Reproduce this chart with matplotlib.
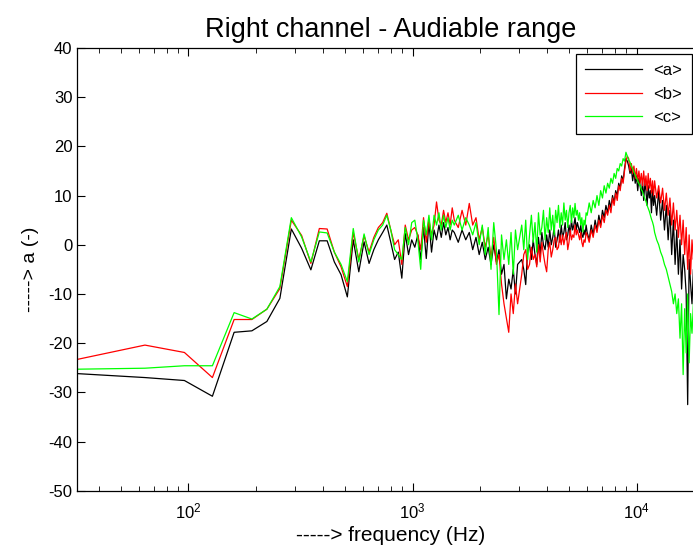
import matplotlib
matplotlib.use("Agg")
import matplotlib.pyplot as plt
import numpy as np

plt.rcParams['font.family'] = ['Liberation Sans', 'DejaVu Sans']
plt.rcParams['axes.unicode_minus'] = False

# frequency bins (Hz): FFT bins of 32 Hz, decimated at higher frequencies
freq = np.concatenate([
    np.arange(32, 1000, 32),
    np.arange(1024, 1505, 32),
    np.arange(1536, 2945, 64),
    np.arange(3072, 5953, 64),
    np.arange(6016, 11905, 128),
    np.arange(12032, 19969, 256),
])

# <a>
a_vals = [
    -26.2, -27.0, -27.6, -30.8, -17.8, -17.5, -15.6, -10.9, 3.2, -0.7,
    -5.1, 0.8, 0.8, -3.5, -6.1, -10.6, 1.0, -5.5, 0.6, -3.8,
    -1.0, 1.0, 2.5, 4.0, 0.5, -3.0, -1.5, -6.8, 2.3, -2.0, 1.0,
    # 1024 - 1504
    -0.5, 2.0, -3.0, 3.5, -2.8, 4.5, -1.5, 3.0, 1.0, 4.0, 1.5, 4.5, 2.0, 3.5, 1.0, 3.0,
    # 1536 - 2944
    2.5, 0.5, 3.0, 1.0, 2.5, -1.0, 1.5, -2.0, 0.5, -3.0, -0.5, -4.0, 0.0, -3.5, -1.0,
    -6.0, -4.0, -11.0, -7.0, -9.0, -5.0, -10.0, -4.0,
    # 3072 - 5952
    -3.0, -5.0, -8.1, -1.0, 0.0, -3.0, 1.0, -2.0, -4.0, 1.5,
    -2.0, 2.5, 0.0, -1.0, 2.0, -0.5, 3.0, 0.0, 1.5, 3.5,
    -0.5, 1.0, 3.0, 0.5, 4.0, 1.5, 2.5, 4.5, 1.0, 2.0,
    4.0, 2.0, 5.0, 3.0, 4.0, 5.5, 3.0, 4.5, 3.5, 2.5,
    4.0, 2.0, 1.5, 3.0, 2.0, 4.0,
    # 6016 - 11904
    2.5, 1.0, 4.0, 2.0, 5.0, 3.0, 6.0, 4.0, 7.0, 5.5,
    8.0, 6.5, 9.0, 7.5, 10.0, 8.5, 11.0, 10.0, 12.5, 11.5,
    14.0, 13.0, 15.5, 17.5, 17.0, 16.0, 14.5, 15.5, 13.0, 15.0,
    12.5, 14.0, 11.0, 13.5, 12.0, 10.0, 13.0, 9.0, 12.5, 11.0,
    8.0, 12.0, 9.5, 11.0, 6.5, 11.5, 8.0,
    # 12032 - 19968
    10.0, 6.0, 11.0, 5.0, 9.0, 3.0, 8.0, 1.0, 7.0, -2.0,
    5.0, -4.0, 3.0, -6.0, 1.0, -9.0, -2.0, -5.0, -10.0, -32.5,
    -3.0, -8.0, -12.0, -5.0, -14.0, -9.0, -6.0, -16.0, -10.0, -13.0,
    -18.0, -11.0,
]

# <b>
b_vals = [
    -23.3, -20.4, -21.9, -27.0, -15.2, -15.2, -13.1, -8.9, 5.0, 1.9,
    -3.8, 3.3, 3.2, -1.5, -4.5, -8.5, 2.5, -3.0, 1.8, -1.5,
    1.5, 3.5, 4.5, 6.4, 3.0, 0.0, 1.0, -4.0, 4.0, 1.0, 3.0,
    # 1024 - 1504
    3.5, 2.0, -1.0, 5.5, 0.5, 5.0, 2.0, 4.0, 8.7, 5.0, 4.0, 7.0, 4.5, 6.5, 4.0, 7.5,
    # 1536 - 2944
    5.0, 3.5, 7.0, 4.0, 8.4, 4.0, 5.5, 1.0, 3.5, -0.5, 2.0, -2.5, 1.5, -4.0, -2.0,
    -8.0, -12.0, -15.0, -17.8, -10.0, -14.0, -8.0, -12.0,
    # 3072 - 5952
    -6.0, -2.0, -1.0, -5.0, -4.0, -0.5, -3.0, -2.0, -4.5, 0.0,
    -3.5, 0.5, -2.0, -4.0, -5.5, -1.0, 0.5, -2.5, -1.0, 1.0,
    1.5, -1.0, -0.5, 2.0, 0.0, 2.0, 0.0, 1.5, 2.5, -1.0,
    0.5, 3.0, 1.0, 2.0, 1.5, 4.0, 2.0, 3.0, 2.0, 1.0,
    2.5, 0.5, -0.4, 1.0, 0.5, 2.5,
    # 6016 - 11904
    2.0, 0.5, 3.0, 1.5, 4.0, 2.5, 5.0, 3.5, 6.0, 4.5,
    7.0, 6.0, 8.0, 6.5, 9.5, 8.0, 10.5, 9.0, 12.0, 11.0,
    13.5, 12.5, 15.0, 17.0, 18.0, 17.5, 15.0, 16.5, 14.5, 16.0,
    13.5, 15.5, 13.0, 15.0, 12.5, 14.5, 12.0, 15.0, 12.0, 14.0,
    11.0, 14.5, 11.5, 13.5, 10.5, 13.0, 10.0,
    # 12032 - 19968
    13.0, 9.5, 12.0, 8.5, 11.5, 7.0, 10.5, 6.0, 9.5, 4.0,
    8.5, 3.0, 7.0, 1.5, 6.0, 0.0, 5.0, -2.0, 3.5, -5.0,
    2.0, -6.0, 1.0, -3.0, 0.5, -7.0, -1.0, -4.0, -8.0, -2.0,
    -6.0, -9.0,
]

# <c>
c_vals = [
    -25.3, -25.1, -24.6, -24.6, -13.8, -15.1, -13.1, -8.5, 5.5, 1.6,
    -3.5, 2.6, 2.4, -1.5, -4.0, -7.5, 3.3, -3.5, 2.2, -2.0,
    1.0, 3.0, 4.0, 6.0, 3.0, -1.0, -2.0, -3.0, 3.5, 0.0, 4.5,
    # 1024 - 1504
    5.0, 1.0, -5.0, 5.0, 2.0, 6.0, 1.0, 6.0, 4.0, 6.5, 3.0, 6.0, 3.5, 5.5, 3.0, 5.0,
    # 1536 - 2944
    4.0, 6.0, 3.0, 5.5, 4.0, 2.0, 4.5, 0.0, 4.0, -2.0, 3.5, -5.0, 4.5, -1.0, -14.2,
    2.0, -3.0, 1.0, -4.0, 2.5, -6.0, 3.0, -1.0,
    # 3072 - 5952
    4.0, -1.0, 5.0, -3.0, 2.0, 6.0, 0.5, 4.5, -1.5, 6.5,
    2.0, 3.5, 7.0, 1.0, 5.5, 2.5, 7.5, 3.0, 6.0, 2.0,
    7.0, 4.5, 8.0, 3.5, 6.5, 4.0, 8.5, 5.0, 7.0, 3.5,
    6.5, 8.0, 4.5, 7.5, 5.5, 8.4, 6.0, 7.0, 5.0, 6.5,
    4.0, 5.5, 2.6, 5.0, 4.0, 6.5,
    # 6016 - 11904
    6.0, 8.5, 6.5, 9.0, 7.5, 10.0, 8.0, 11.0, 9.5, 12.0,
    10.5, 12.5, 11.5, 13.5, 12.5, 14.5, 13.5, 15.5, 15.0, 16.5,
    16.0, 17.5, 17.0, 18.8, 18.0, 17.2, 16.8, 16.0, 15.5, 14.8,
    14.2, 13.5, 13.0, 12.4, 12.0, 11.2, 10.8, 10.0, 9.4, 8.8,
    8.0, 7.4, 6.8, 6.0, 5.2, 4.6, 3.8,
    # 12032 - 19968
    2.5, 1.0, 0.0, -1.5, -2.5, -4.0, -5.0, -6.5, -8.0, -9.5,
    -12.0, -10.0, -14.0, -11.0, -19.0, -12.0, -26.4, -13.0, -22.0, -10.0,
    -24.0, -14.0, -18.0, -12.0, -20.0, -15.0, -22.0, -16.0, -19.0, -24.0,
    -17.0, -21.0,
]

labels = ['<a>', '<b>', '<c>']
colors = ['k', 'r', '#00ff00']

fig = plt.figure(figsize=(6.93, 5.49), dpi=100)
ax = fig.add_axes([0.1118, 0.1062, 0.9042, 0.8064])

for vals, lab, col in zip([a_vals, b_vals, c_vals], labels, colors):
    ax.semilogx(freq, vals, color=col, lw=0.9, label=lab)

ax.set_xlim(32, 20000)
ax.set_ylim(-50, 40)
ax.set_yticks(np.arange(-50, 41, 10))
ax.tick_params(which='both', direction='in', top=True, right=True, labelsize=12)
ax.tick_params(which='major', length=6)
ax.tick_params(which='minor', length=3.5)
ax.tick_params(axis='x', pad=8)
for s in ax.spines.values():
    s.set_linewidth(0.9)

ax.set_title('Right channel - Audiable range', fontsize=19.5, pad=8)
ax.set_xlabel('-----> frequency (Hz)', fontsize=15, labelpad=3)
ax.set_ylabel('-----> a (-)', fontsize=14, labelpad=7)

leg = ax.legend(loc='upper right', bbox_to_anchor=(0.998, 0.9016),
                bbox_transform=fig.transFigure, borderaxespad=0,
                fancybox=False, framealpha=1, edgecolor='k', fontsize=12,
                handlelength=3.4, labelspacing=0.5, borderpad=0.55,
                handletextpad=0.7)
leg.get_frame().set_linewidth(0.9)

fig.savefig('out.png', dpi=100)
